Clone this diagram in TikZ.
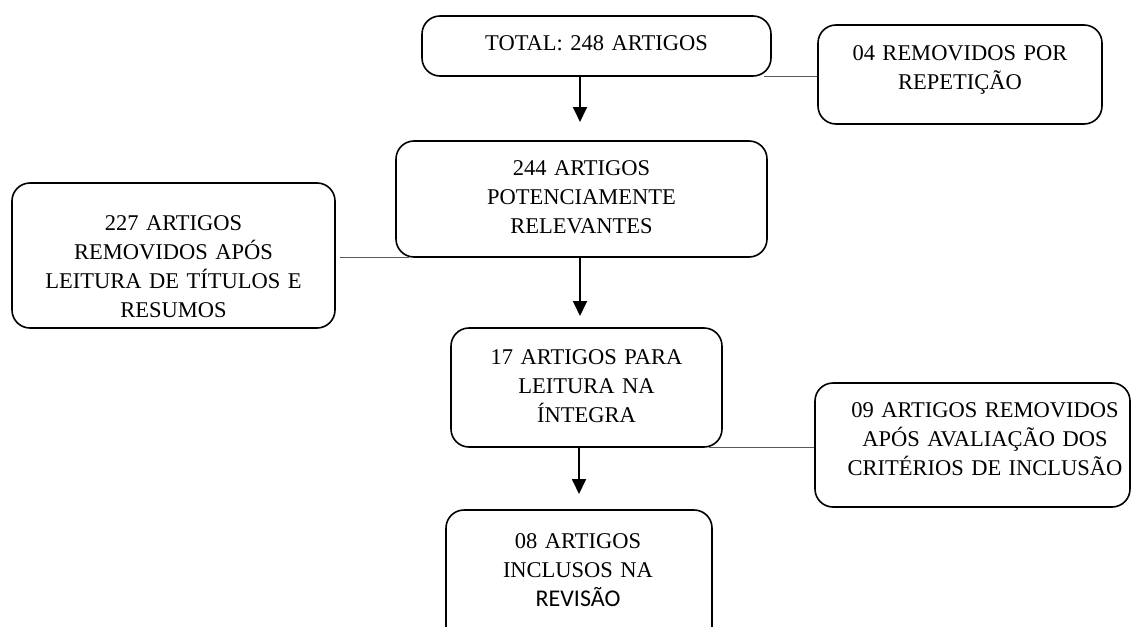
\documentclass[tikz,border=0pt]{standalone}
\usepackage{fontspec}
\setmainfont{Liberation Serif}
\newfontfamily\calibrifont{Carlito}
\usetikzlibrary{arrows.meta}
\tikzset{
  bx/.style={draw, rounded corners=18pt, line width=1.6pt, inner sep=0pt},
  tx/.style={font=\fontsize{22.5}{29}\selectfont, align=center, inner sep=0pt, anchor=base, text width=340pt},
  arr/.style={line width=1.8pt, -{Triangle[length=15pt,width=14pt]}},
  thin line/.style={draw=black!65, line width=1pt}
}
\begin{document}
\begin{tikzpicture}[x=1pt,y=-1pt]
\useasboundingbox (0,0) rectangle (1131,626);
% boxes
\node[bx, minimum width=349pt, minimum height=60pt]  (b1) at (596.5,46) {};
\node[bx, minimum width=284pt, minimum height=99pt]  (b2) at (960,74.5) {};
\node[bx, minimum width=371pt, minimum height=116pt] (b3) at (581.5,199) {};
\node[bx, minimum width=323pt, minimum height=145pt] (b4) at (173.5,255.5) {};
\node[bx, minimum width=271pt, minimum height=119pt] (b5) at (586.5,387.5) {};
\node[bx, minimum width=315pt, minimum height=124pt] (b6) at (972.5,445) {};
\node[bx, minimum width=266pt, minimum height=135pt] (b7) at (579,577.5) {};
% texts
\node[tx] (t1) at (596.5,50) {TOTAL: 248 ARTIGOS};
\node[tx] (t2) at (960,60) {04 REMOVIDOS POR\\REPETIÇÃO};
\node[tx] (t3) at (581.5,175) {244 ARTIGOS\\POTENCIAMENTE\\RELEVANTES};
\node[tx] (t4) at (173.5,230) {227 ARTIGOS\\REMOVIDOS APÓS\\LEITURA DE TÍTULOS E\\RESUMOS};
\node[tx] (t5) at (586.5,364) {17 ARTIGOS PARA\\LEITURA NA\\ÍNTEGRA};
\node[tx] (t6) at (985,417) {09 ARTIGOS REMOVIDOS\\APÓS AVALIAÇÃO DOS\\CRITÉRIOS DE INCLUSÃO};
\node[tx] (t7) at (578,548) {08 ARTIGOS\\INCLUSOS NA\\{\calibrifont\fontsize{24}{29}\selectfont REVISÃO}};
% arrow ends
\coordinate (e1) at (580,122);
\coordinate (e2) at (580,316);
\coordinate (e3) at (579,494);
\draw[arr] (b1.south -| e1) -- (e1);
\draw[arr] (b3.south -| e2) -- (e2);
\draw[arr] (b5.south -| e3) -- (e3);
% side connectors
\draw[thin line] ([xshift=-8pt]b1.south east) -- (b1.south east -| b2.west);
\draw[thin line] ([xshift=4pt]b4.east |- b3.south west) -- ([xshift=14pt]b3.south west);
\draw[thin line] ([xshift=-14pt]b5.south east) -- (b5.south east -| b6.west);
\end{tikzpicture}
\end{document}
